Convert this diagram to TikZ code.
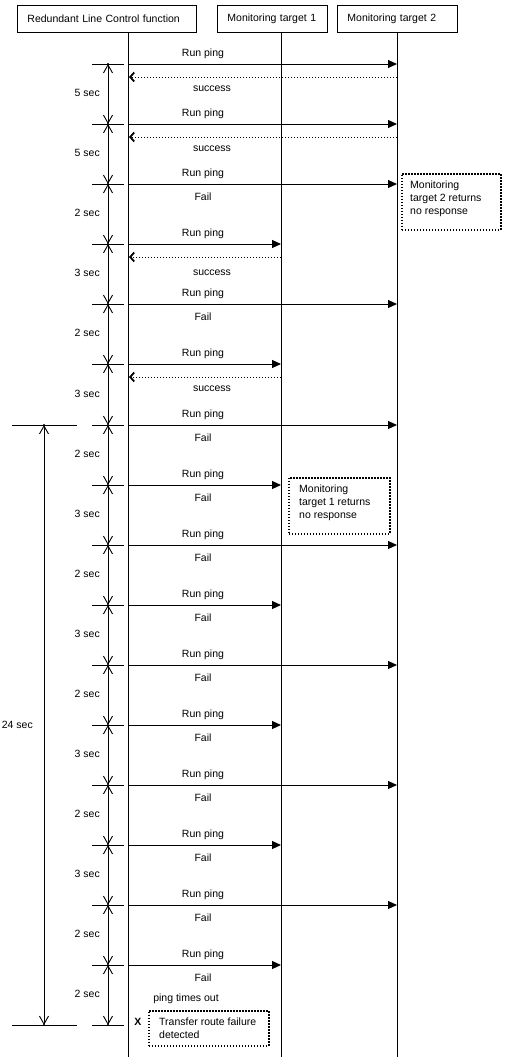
\documentclass[tikz,border=0pt]{standalone}
\usepackage{fontspec}
\setmainfont{Liberation Sans}
\usetikzlibrary{arrows.meta}
\begin{document}
\begin{tikzpicture}[x=1pt,y=-1pt,
  font=\fontsize{10.5}{13}\selectfont,
  every node/.style={inner sep=0pt},
  ln/.style={line width=0.9pt},
  hdr/.style={draw, line width=0.9pt, anchor=north west, minimum height=27pt, inner xsep=10pt, align=left},
  msg/.style={ln, -{Triangle[length=9pt,width=8pt]}},
  ret/.style={line width=0.9pt, dash pattern=on 1.4pt off 1.6pt, -{Straight Barb[length=4pt,width=9pt,line width=1.8pt]}},
  dimar/.style={ln, {Straight Barb[length=8pt,width=9pt]}-{Straight Barb[length=8pt,width=9pt]}},
  note/.style={draw, line width=1.6pt, dash pattern=on 1.5pt off 1.5pt, anchor=north west},
  notetext/.style={anchor=north west, align=left},
  lab/.style={anchor=base}
]
\fill[white] (0,0) rectangle (505,1061);
\useasboundingbox (0,0) rectangle (505,1061);

% headers
\node[hdr, text width=159pt] (h1) at (17,5) {Redundant Line Control function};
\node[hdr, text width=90pt] (h2) at (217,5) {Monitoring target 1};
\node[hdr, text width=100pt] (h3) at (337,5) {Monitoring target 2};

% lifelines
\coordinate (rB) at (128,1057);
\coordinate (aB) at (281,1057);
\coordinate (bB) at (397,1057);
\draw[ln] (h1.south -| rB) -- (rB);
\draw[ln] (h2.south -| aB) -- (aB);
\draw[ln] (h3.south -| bB) -- (bB);

% messages
\foreach \y/\t in {64/b,124/b,184/b,244/a,304/b,364/a,425/b,485/a,545/b,605/a,665/b,725/a,785/b,845/a,905/b,965/a}{
  \coordinate (s\y) at (128,\y);
  \coordinate (d\y) at (s\y -| \t B);
  \draw[msg] (s\y) -- (d\y);
  \node[lab] (rp\y) at (203,\y-7.5) {Run ping};
}
% replies
\foreach \y/\b in {64/91,124/151,244/275,364/391}{
  \coordinate (rs\y) at ([yshift=-13pt]d\y);
  \coordinate (re\y) at ([yshift=-13pt,xshift=1pt]s\y);
  \draw[ret] (rs\y) -- (re\y);
  \node[lab] (ok\y) at (212,\b) {success};
}
\foreach \y in {184,304,425,485,545,605,665,725,785,845,905,965}{
  \node[lab] (fl\y) at (203,\y+16) {Fail};
}

% interval dimensions
\foreach \y in {64,124,184,244,304,364,425,485,545,605,665,725,785,845,905,965,1025}{
  \coordinate (tk\y) at (108,\y);
  \draw[ln] (92,\y) -- (124,\y);
}
\foreach \a/\b/\s in {64/124/5,124/184/5,184/244/2,244/304/3,304/364/2,364/425/3,425/485/2,485/545/3,545/605/2,605/665/3,665/725/2,725/785/3,785/845/2,845/905/3,905/965/2,965/1025/2}{
  \draw[dimar] (tk\a) -- (tk\b);
  \node[anchor=east] (dl\a) at (100,{(\a+\b)/2-1}) {\s\ sec};
}
\foreach \y in {64,124,184,244,304,364,425,485,545,605,665,725,785,845,905,965,1025}{
  \fill (tk\y) circle (1.2pt);
}

% total dimension
\coordinate (tA) at (44,425);
\coordinate (tB) at (44,1025);
\draw[ln] (12,425) -- (77,425);
\draw[ln] (12,1025) -- (77,1025);
\draw[dimar] (tA) -- (tB);
\fill (tA) circle (1.2pt);
\fill (tB) circle (1.2pt);
\node[anchor=east] (tot) at (33,725) {24 sec};

% notes
\node[note, minimum width=99pt, minimum height=56pt] (n2) at (401,173) {};
\node[notetext] (n2t) at (410,181) {Monitoring\\target 2 returns\\no response};
\node[note, minimum width=101pt, minimum height=56pt] (n1) at (288,477) {};
\node[notetext] (n1t) at (299,485) {Monitoring\\target 1 returns\\no response};

% end
\node[lab] (pto) at (186,1001) {ping times out};
\node[font=\fontsize{10.5}{13}\selectfont\bfseries] (xx) at (138,1022) {X};
\node[note, minimum width=120pt, minimum height=35pt] (n3) at (148,1010) {};
\node[notetext] (n3t) at (159,1018) {Transfer route failure\\detected};
\end{tikzpicture}
\end{document}
